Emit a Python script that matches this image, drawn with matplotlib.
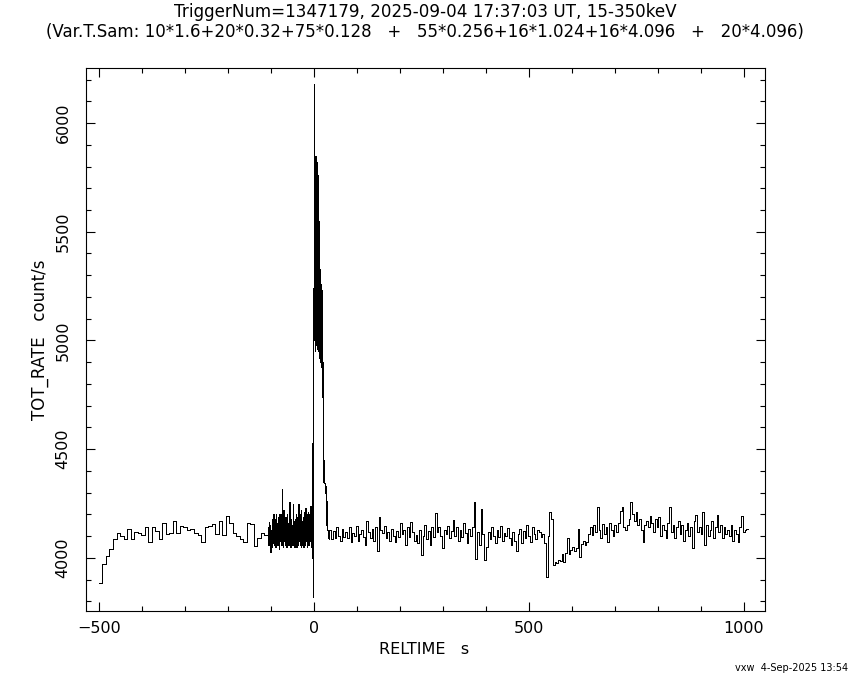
import numpy as np
import matplotlib
matplotlib.use("Agg")
import matplotlib.pyplot as plt
from matplotlib.ticker import MultipleLocator

# time sampling segments (start, end in s) and the rate in each bin (count/s)
span_a = (-500.0, -106.8)
rate_a = [3884, 3971, 4008, 4040, 4086, 4113, 4101, 4086, 4135, 4089,
          4121, 4113, 4106, 4141, 4075, 4143, 4124, 4086, 4159, 4110,
          4113, 4168, 4115, 4145, 4140, 4128, 4133, 4115, 4106, 4075,
          4141, 4146, 4154, 4110, 4168, 4106, 4193, 4160, 4115, 4100,
          4085, 4075, 4160, 4155, 4055, 4093, 4115, 4105]

span_b = (-106.8, -4.5)
rate_b = [4140, 4060, 4165, 4080, 4150, 4029, 4130, 4070, 4180, 4050,
          4140, 4070, 4200, 4060, 4150, 4090, 4180, 4050, 4200, 4080,
          4160, 4060, 4190, 4070, 4150, 4040, 4200, 4080, 4170, 4060,
          4200, 4316, 4060, 4180, 4050, 4220, 4080, 4150, 4060, 4190,
          4070, 4140, 4050, 4200, 4070, 4160, 4060, 4190, 4255, 4060,
          4140, 4050, 4180, 4070, 4150, 4060, 4250, 4090, 4060, 4170,
          4050, 4180, 4070, 4200, 4050, 4190, 4070, 4160, 4060, 4250,
          4080, 4200, 4060, 4150, 4050, 4220, 4080, 4170, 4060, 4190,
          4050, 4190, 4070, 4210, 4060, 4230, 4080, 4170, 4050, 4200,
          4070, 4210, 4060, 4200, 4080, 4180, 4240, 4050, 4200, 4100]

span_c1 = (-4.5, 0.5)
rate_c1 = [4000, 4530, 3820, 5240, 6180]

span_c2 = (0.5, 21.0)
rate_c2 = [5000, 5850, 5050, 5840, 4950, 5800, 5100, 5850, 4980, 5780,
           5000, 5820, 5150, 5700, 4960, 5760, 5050, 5620, 4950, 5580,
           5000, 5550, 4920, 5400, 5050, 5330, 4900, 5300, 4980, 5260,
           4900, 5250, 4950, 5240, 4880, 5230, 4740, 5000, 4740, 4900,
           4590]

span_c3 = (21.0, 36.0)
rate_c3 = [4580, 4350, 4450, 4344, 4300, 4330, 4270, 4150, 4260, 4200,
           4130, 4090, 4130, 4100, 4085]

span_d = (36.0, 1010.0)
rate_d = [4130, 4085, 4125, 4090, 4140, 4100, 4080, 4135, 4095, 4120,
          4090, 4140, 4075, 4115, 4100, 4145, 4080, 4110, 4130, 4095,
          4060, 4170, 4120, 4090, 4135, 4080, 4140, 4033, 4188, 4130,
          4115, 4145, 4090, 4120, 4080, 4135, 4100, 4075, 4125, 4095,
          4160, 4110, 4130, 4060, 4140, 4095, 4166, 4120, 4080, 4105,
          4070, 4130, 4014, 4100, 4150, 4085, 4125, 4060, 4140, 4095,
          4205, 4120, 4140, 4100, 4046, 4130, 4110, 4145, 4090, 4125,
          4174, 4100, 4140, 4080, 4130, 4095, 4160, 4115, 4070, 4135,
          4100, 4140, 4257, 3995, 4120, 4060, 4225, 4110, 3990, 4050,
          4120, 4085, 4140, 4100, 4070, 4130, 4095, 4145, 4080, 4115,
          4100, 4136, 4090, 4060, 4120, 4080, 4030, 4110, 4135, 4070,
          4125, 4090, 4150, 4100, 4075, 4140, 4110, 4085, 4130, 4120,
          4095, 4110, 4070, 3914, 4100, 4210, 4180, 3968, 3980, 3975,
          3990, 3985, 4020, 3980, 4023, 4092, 4020, 4035, 4050, 4030,
          4045, 4133, 4005, 4065, 4080, 4060, 4075, 4110, 4140, 4105,
          4150, 4120, 4234, 4130, 4090, 4155, 4110, 4140, 4075, 4160,
          4130, 4100, 4150, 4120, 4160, 4215, 4234, 4140, 4130, 4150,
          4180, 4257, 4200, 4170, 4210, 4150, 4180, 4130, 4075, 4150,
          4170, 4140, 4195, 4160, 4120, 4180, 4140, 4190, 4100, 4150,
          4130, 4090, 4160, 4234, 4120, 4150, 4090, 4140, 4170, 4110,
          4150, 4080, 4130, 4160, 4100, 4140, 4045, 4170, 4197, 4120,
          4140, 4110, 4211, 4060, 4150, 4100, 4130, 4170, 4090, 4140,
          4197, 4120, 4150, 4090, 4140, 4110, 4130, 4100, 4150, 4080,
          4130, 4110, 4075, 4140, 4194, 4120, 4130, 4135]

title1 = "TriggerNum=1347179, 2025-09-04 17:37:03 UT, 15-350keV"
title2 = ("(Var.T.Sam: 10*1.6+20*0.32+75*0.128   +   "
          "55*0.256+16*1.024+16*4.096   +   20*4.096)")
xlabel = "RELTIME   s"
ylabel = "TOT_RATE   count/s"
stamp = "vxw  4-Sep-2025 13:54"

segments = [(span_a, rate_a), (span_b, rate_b), (span_c1, rate_c1),
            (span_c2, rate_c2), (span_c3, rate_c3), (span_d, rate_d)]

edges = [span_a[0]]
values = []
for span, rate in segments:
    e = np.linspace(span[0], span[1], len(rate) + 1)
    edges.extend(e[1:])
    values.extend(rate)

W, H = 850, 680
fig = plt.figure(figsize=(W / 100, H / 100), dpi=100)
ax = fig.add_axes([86 / W, 1 - 611 / H, (765 - 86) / W, (611 - 68) / H])

ax.stairs(values, edges, baseline=None, color="black", lw=0.7,
          antialiased=False)

ax.set_xlim(-530, 1049)
ax.set_ylim(3756, 6253)
ax.xaxis.set_major_locator(MultipleLocator(500))
ax.xaxis.set_minor_locator(MultipleLocator(100))
ax.yaxis.set_major_locator(MultipleLocator(500))
ax.yaxis.set_minor_locator(MultipleLocator(100))

for s in ax.spines.values():
    s.set_linewidth(0.8)

ax.tick_params(which="both", direction="in", top=True, right=True, width=0.8)
ax.tick_params(which="major", length=6.5)
ax.tick_params(which="minor", length=3.3)
ax.tick_params(axis="x", labelsize=11.5, pad=7)
ax.tick_params(axis="y", labelsize=11.5, pad=11, labelrotation=90)
for lab in ax.get_yticklabels():
    lab.set_va("center")

fig.text(0.5, 1 - 12 / H, title1, ha="center", va="center", fontsize=12.1)
fig.text(0.5, 1 - 32 / H, title2, ha="center", va="center", fontsize=12)
fig.text(424 / W, 1 - 649 / H, xlabel, ha="center", va="center", fontsize=11.5)
fig.text(40 / W, 1 - 340 / H, ylabel, ha="center", va="center", fontsize=12,
         rotation=90)
fig.text(848 / W, 1 - 668 / H, stamp, ha="right", va="center", fontsize=7)

fig.savefig("out.png", dpi=100)
